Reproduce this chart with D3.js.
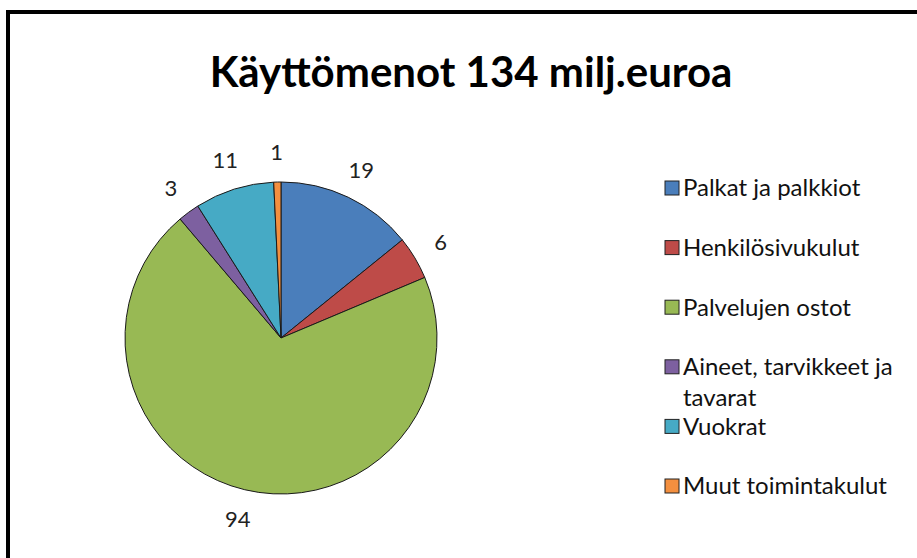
<!DOCTYPE html>
<html>
<head>
<meta charset="utf-8">
<script src="https://cdn.jsdelivr.net/npm/d3@7"></script>
<style>
  body { margin: 0; background: #fff; }
  svg { display: block; }
</style>
</head>
<body>
<div id="chart"></div>
<script>
// chart data
const title = "Käyttömenot 134 milj.euroa"
const categories = ["Palkat ja palkkiot", "Henkilösivukulut", "Palvelujen ostot",
    "Aineet, tarvikkeet ja tavarat", "Vuokrat", "Muut toimintakulut"]
const values = [19, 6, 94, 3, 11, 1]
const colors = ["#4A7EBB", "#BE4B48", "#98B954", "#7D60A0", "#46AAC5", "#F38F3F"]

const fullWidth = 917
const fullHeight = 558

const svg = d3.select("#chart").append("svg")
    .attr("width", fullWidth)
    .attr("height", fullHeight)

// outer frame, only top and left edges are inside the picture
svg.append("rect")
    .attr("x", 8).attr("y", 12)
    .attr("width", 1000).attr("height", 1000)
    .attr("fill", "none")
    .attr("stroke", "#000")
    .attr("stroke-width", 4)

svg.append("text")
    .attr("x", 471)
    .attr("y", 87)
    .attr("text-anchor", "middle")
    .attr("font-family", "Lato, 'Open Sans', sans-serif")
    .attr("font-weight", "bold")
    .attr("font-size", 42)
    .attr("fill", "#000")
    .text(title)

// pie
const cx = 281, cy = 338, radius = 156

const pie = d3.pie().sort(null).value(d => d.value)
const arcs = pie(categories.map((c, i) => ({ name: c, value: values[i], color: colors[i] })))

const arc = d3.arc().innerRadius(0).outerRadius(radius)
const labelArc = d3.arc().innerRadius(radius + 30).outerRadius(radius + 30)

const g = svg.append("g").attr("transform", "translate(" + cx + "," + cy + ")")

g.selectAll("path")
    .data(arcs)
    .enter()
    .append("path")
    .attr("d", arc)
    .attr("fill", d => d.data.color)
    .attr("stroke", "#1a1a1a")
    .attr("stroke-width", 1)
    .attr("stroke-linejoin", "round")

g.selectAll("text.lbl")
    .data(arcs)
    .enter()
    .append("text")
    .attr("class", "lbl")
    .attr("transform", d => "translate(" + labelArc.centroid(d) + ")")
    .attr("text-anchor", "middle")
    .attr("dy", "0.35em")
    .attr("font-family", "Lato, 'Open Sans', sans-serif")
    .attr("font-size", 22)
    .attr("fill", "#222")
    .text(d => d.data.value)

// legend
const legendY = d3.scaleLinear().domain([0, categories.length - 1]).range([188, 486])
const legend = svg.append("g").attr("class", "legend")

const item = legend.selectAll("g")
    .data(arcs)
    .enter()
    .append("g")
    .attr("transform", (d, i) => "translate(665," + legendY(i) + ")")

item.append("rect")
    .attr("x", 0).attr("y", -7)
    .attr("width", 14).attr("height", 14)
    .attr("fill", d => d.data.color)
    .attr("stroke", "#222")
    .attr("stroke-width", 1)

item.append("text")
    .attr("x", 18)
    .attr("dy", "0.35em")
    .attr("font-family", "Lato, 'Open Sans', sans-serif")
    .attr("font-size", 24)
    .attr("fill", "#111")
    .each(function (d) { wrap(d3.select(this), d.data.name, 236) })

/** Splits a legend label on words to fit the given width
 */
function wrap(text, label, maxWidth) {
    let words = label.split(" ")
    let line = []
    let tspan = text.append("tspan").attr("x", 18).attr("dy", "0.35em")
    words.forEach(w => {
        line.push(w)
        tspan.text(line.join(" "))
        if (tspan.node().getComputedTextLength() > maxWidth && line.length > 1) {
            line.pop()
            tspan.text(line.join(" "))
            line = [w]
            tspan = text.append("tspan").attr("x", 18).attr("dy", "1.3em").text(w)
        }
    })
}
</script>
</body>
</html>
